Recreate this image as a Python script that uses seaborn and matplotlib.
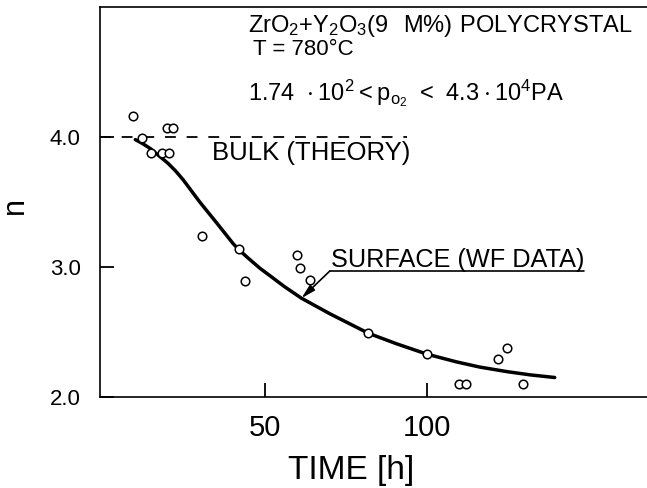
import matplotlib
matplotlib.use("Agg")
import matplotlib.pyplot as plt
import seaborn as sns
import pandas as pd

# ---------------------------------------------------------------------------
# Data
# ---------------------------------------------------------------------------
time_pts = [9.3, 12.2, 14.7, 18.1, 20.4, 19.8, 21.6, 30.5, 42.1, 43.8,
            59.8, 60.8, 63.9, 82.0, 100.0, 110.0, 112.0, 121.9, 124.8, 129.7]
n_pts = [4.16, 3.99, 3.88, 3.88, 3.88, 4.07, 4.07, 3.24, 3.14, 2.89,
         3.09, 2.99, 2.90, 2.49, 2.33, 2.10, 2.10, 2.29, 2.38, 2.10]

# fitted "surface" curve
curve_t = [10.0, 12.2, 14.7, 17.1, 20.0, 22.4, 24.8, 29.9, 35.1, 40.2, 42.1,
           45.0, 48.5, 52.0, 56.0, 61.3, 70.1, 82.0, 90.6, 100.0, 109.2,
           116.4, 124.8, 132.0, 139.5]
curve_n = [3.98, 3.95, 3.91, 3.86, 3.80, 3.74, 3.67, 3.50, 3.34, 3.18, 3.13,
           3.065, 2.99, 2.925, 2.85, 2.76, 2.64, 2.49, 2.41, 2.33, 2.27,
           2.23, 2.195, 2.17, 2.15]

bulk_n = 4.0
bulk_t_end = 94.0

x_ticks = [50, 100]
x_ticklabels = ["50", "100"]
y_ticks = [2.0, 3.0, 4.0]
y_ticklabels = ["2.0", "3.0", "4.0"]

pts = pd.DataFrame({"time": time_pts, "n": n_pts})
curve = pd.DataFrame({"time": curve_t, "n": curve_n})

# ---------------------------------------------------------------------------
# Style
# ---------------------------------------------------------------------------
sns.set_theme(style="ticks")
plt.rcParams["font.family"] = ["Liberation Sans", "DejaVu Sans"]
plt.rcParams["axes.linewidth"] = 1.2
plt.rcParams["text.color"] = "black"
plt.rcParams["axes.labelcolor"] = "black"

fig = plt.figure(figsize=(6.47, 4.88), dpi=100)
ax = fig.add_axes([100 / 647, 91 / 488, 547 / 647, 390 / 488])

sns.lineplot(data=curve, x="time", y="n", ax=ax, color="black", lw=2.5,
             sort=False, estimator=None, zorder=2)
sns.scatterplot(data=pts, x="time", y="n", ax=ax, marker="o", s=38,
                color="white", edgecolor="black", linewidth=1.1, zorder=3)

# bulk theory dashed line
ax.hlines(bulk_n, -1, bulk_t_end, colors="black", lw=1.3,
          linestyles=(0, (6, 6)), zorder=1)

ax.set_xlim(-0.9, 168)
ax.set_ylim(2.0, 5.0)
ax.spines["right"].set_visible(False)
for s in ["left", "bottom", "top"]:
    ax.spines[s].set_color("black")

ax.set_xticks(x_ticks)
ax.set_xticklabels(x_ticklabels, fontsize=21)
ax.set_yticks(y_ticks)
ax.set_yticklabels(y_ticklabels, fontsize=16)
ax.tick_params(axis="both", direction="in", length=10, width=1.3, colors="black")
ax.tick_params(axis="x", pad=12)
ax.tick_params(axis="y", pad=14)

ax.set_xlabel("TIME [h]", fontsize=24)
ax.xaxis.set_label_coords(0.459, -0.15)
ax.set_ylabel("n", fontsize=22)
ax.yaxis.set_label_coords(-0.128, 0.49)

# annotations
ax.text(44.8, 4.81, r"$\mathregular{ZrO_2{+}Y_2O_3(9\ \ M\%)\ POLYCRYSTAL}$",
        fontsize=17, ha="left", va="baseline")
ax.text(46.3, 4.63, "T = 780°C", fontsize=16, ha="left", va="baseline")
ax.text(44.8, 4.28,
        r"$\mathregular{1.74\ \cdot 10^2 < p_{o_2}\ <\ 4.3\cdot 10^4PA}$",
        fontsize=17, ha="left", va="baseline")
ax.text(33.6, 3.82, "BULK (THEORY)", fontsize=18.5, ha="left", va="baseline")
ax.text(70.5, 3.0, "SURFACE (WF DATA)", fontsize=18.2, ha="left", va="baseline")

ax.plot([70.1, 148.4], [2.97, 2.97], color="black", lw=1.2)
ax.annotate("", xy=(61.3, 2.76), xytext=(70.1, 2.97),
            arrowprops=dict(arrowstyle="-|>,head_length=0.7,head_width=0.18",
                            color="black", lw=1.2, shrinkA=0, shrinkB=0))

fig.savefig("out.png", dpi=100)
